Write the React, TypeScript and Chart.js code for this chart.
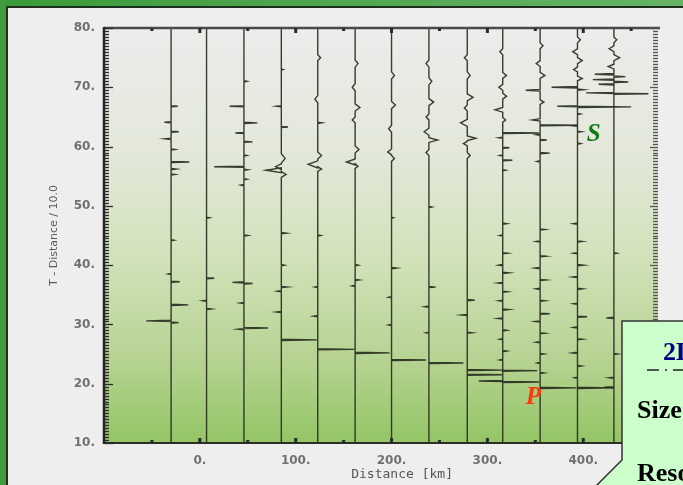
import React, { useEffect, useRef } from "react";
import { Chart, registerables } from "chart.js";

Chart.register(...registerables);

// ---- axes ----
const yTickValues = [10, 20, 30, 40, 50, 60, 70, 80];
const xTickValues = [0, 100, 200, 300, 400];
const xMin = -100;
const xMax = 478;
const yMin = 10;
const yMax = 80;
const yTitle = "T - Distance / 10.0";
const xTitle = "Distance [km]";

// ---- stations (distance in km) ----
const traceDistances = [-30, 7, 46, 85, 123, 162, 200, 239, 279, 316, 355, 394, 432];

// events per trace: [reduced time, amplitude (km), half-width (time)]
const traceM30 = [
  [66.8, 7], [64.1, -7], [62.5, 8], [61.3, -6], [59.5, 4], [57.4, 19], [56.2, 5], [55.3, 4],
  [44.2, 3], [38.5, -3], [37.2, 9], [33.3, 18], [30.6, -26], [30.3, 8],
];
const trace7 = [[48, 3], [37.8, 8], [34, -4], [32.6, 5]];
const trace46 = [
  [71, 3], [66.8, -15], [64, 14], [62.3, -9], [60.8, 9], [58.5, 3], [56.6, -31], [56.1, 4],
  [54.5, 3], [53.5, -3], [45, 4], [37.1, -12], [36.9, 9], [33.6, -4], [29.4, 25], [29.2, -6],
];
const trace85 = [
  [73, 2], [66.8, -5], [63.3, 7], [58, 4, 0.8], [56.6, -6, 0.5], [56, -16, 0.4], [55.3, 5, 0.5],
  [45.4, 5], [40, 3], [36.3, 6], [35.6, -4], [32.1, -5], [27.4, 37, 0.1],
];
const trace123 = [
  [75, 3, 0.5], [68, -3, 0.6], [64, 4], [58.5, 4, 0.6], [57, -10, 0.6], [56.2, 4, 0.4],
  [45, 3], [36.3, -3], [31.4, -4], [25.8, 38, 0.1],
];
const trace162 = [
  [74, 3, 0.6], [70, -3, 0.6], [66.6, 5, 0.6], [64.5, -3, 0.5], [59.5, 4, 0.6], [57.4, -9, 0.5],
  [56.7, 3, 0.4], [40, 3], [37.5, 4], [36.5, -3], [25.2, 36, 0.1],
];
const trace200 = [
  [72, 3, 0.6], [67, 4, 0.6], [63, -3, 0.6], [59.1, -4, 0.5], [58, 3, 0.5], [48, 2],
  [39.5, 5], [34.6, -3], [29.9, -3], [24.0, 36, 0.1],
];
const trace239 = [
  [74, -3, 0.6], [71, 3, 0.6], [67.5, 5, 0.6], [65, -3, 0.5], [62.5, -5, 0.6], [61.1, 9, 0.4],
  [59, -3, 0.5], [49.8, 3], [36.3, 7], [33, -4], [28.6, -3], [23.5, 36, 0.1],
];
const trace279 = [
  [75, -3, 0.5], [72, 3, 0.6], [68.3, 6, 0.6], [66.5, -3, 0.5], [64, -7, 0.6], [61.4, 9, 0.4],
  [60.5, -4, 0.4], [58.5, 3, 0.5], [34.1, 8], [31.6, -6], [28.6, 5], [22.3, 37, 0.1], [21.5, 36, 0.1],
];
const trace316 = [
  [76, -3, 0.5], [72, 4, 0.5], [70, -4, 0.5], [68.5, 4, 0.5], [66.2, -8, 0.4], [64.5, 3, 0.4],
  [62.3, 38, 0.1], [61.5, -4], [59.8, 7], [58.5, -3], [57.7, 10], [56, 3],
  [47, 4], [45, -3], [42, 5], [40, -4], [38.7, 6], [37, -5], [35.5, 5], [34, -4], [32.5, 6],
  [31, -5], [29, 4], [27.5, -3], [25.5, 4], [24, -3], [22.2, 36, 0.1], [20.45, -25, 0.08], [20.3, 38, 0.1],
];
const trace355 = [
  [77, 3, 0.5], [74, -4, 0.5], [72, 5, 0.5], [69.5, -15, 0.15], [67.5, 4, 0.4], [64.5, -8, 0.2],
  [63.6, 39, 0.1], [62, -4], [61.1, 7], [58.9, 10], [57.5, -3],
  [46, 5], [44, -4], [41.5, 6], [39.5, -5], [37.5, 6], [36, -4], [34, 5], [31.8, 10], [30.5, -5],
  [28.5, 5], [27, -4], [25, 4], [23.5, -3], [21.8, 4], [19.3, 38, 0.1],
];
const trace394 = [
  [78, 3, 0.5], [76, -5, 0.5], [74.5, 5, 0.5], [73, -4, 0.4], [71.5, 5, 0.4], [70.0, -27, 0.12],
  [69.6, 6], [66.8, -21, 0.1], [66.7, 56, 0.1], [65.5, 3], [63.5, -5], [62.5, 4], [60.5, 3],
  [47, -4], [44, 5], [42, -4], [40, 6], [38, -5], [36, 5], [33.5, -4], [31.3, 10], [29.5, -4],
  [27.5, 5], [25.2, -5], [23, 4], [21, -3], [19.3, 38, 0.1],
];
const trace432 = [
  [78, 3, 0.5], [76.5, -5, 0.5], [75, 6, 0.5], [73.5, -6, 0.4], [72.2, -20, 0.12], [71.8, 12, 0.12],
  [71.3, -22, 0.12], [70.9, 15, 0.12], [70.5, -16, 0.12], [69.05, -29, 0.1], [68.9, 36, 0.1],
  [42, 3], [31.1, -8], [25, 4], [21, -5], [19.4, -10],
];
const traceEvents = [
  traceM30, trace7, trace46, trace85, trace123, trace162, trace200,
  trace239, trace279, trace316, trace355, trace394, trace432,
];

// phase labels in data space
const phaseLabels = [
  { text: "S", x: 411, t: 62, color: "#137a13" },
  { text: "P", x: 348, t: 17.6, color: "#ff3a0a" },
];

function buildTrace(d: number, events: number[][]) {
  const pts: { x: number; y: number }[] = [{ x: d, y: yMax }];
  const sorted = [...events].sort((a, b) => b[0] - a[0]);
  for (const ev of sorted) {
    const t = ev[0];
    const a = ev[1];
    const w = ev.length > 2 ? ev[2] : 0.1;
    pts.push({ x: d, y: t + w });
    pts.push({ x: d + a, y: t });
    pts.push({ x: d, y: t - w });
  }
  pts.push({ x: d, y: yMin });
  return pts;
}

const bgPlugin = {
  id: "plotBg",
  beforeDatasetsDraw(chart: any) {
    const { ctx, chartArea } = chart;
    const { left, right, top, bottom } = chartArea;
    const g = ctx.createLinearGradient(0, top, 0, bottom);
    g.addColorStop(0, "#ececec");
    g.addColorStop(0.3, "#e3e8da");
    g.addColorStop(0.55, "#d2e2bb");
    g.addColorStop(0.8, "#b5d392");
    g.addColorStop(1, "#94c565");
    ctx.save();
    ctx.fillStyle = g;
    ctx.fillRect(left, top, right - left, bottom - top);
    ctx.restore();
  },
};

const framePlugin = {
  id: "frame",
  afterDatasetsDraw(chart: any) {
    const { ctx, chartArea, scales } = chart;
    const { left, right, top, bottom } = chartArea;
    const x = scales.x;
    const y = scales.y;
    ctx.save();
    ctx.strokeStyle = "#4a4a4a";
    ctx.lineWidth = 2.5;
    ctx.beginPath();
    ctx.moveTo(left, top);
    ctx.lineTo(right + 2, top);
    ctx.stroke();
    ctx.strokeStyle = "#2b2f25";
    ctx.lineWidth = 2;
    ctx.beginPath();
    ctx.moveTo(left, bottom);
    ctx.lineTo(right, bottom);
    ctx.stroke();
    ctx.strokeStyle = "#222";
    ctx.lineWidth = 2.5;
    ctx.beginPath();
    ctx.moveTo(left, top - 1);
    ctx.lineTo(left, bottom + 1);
    ctx.stroke();
    ctx.lineWidth = 1.3;
    for (let v = yMin; v <= yMax + 0.001; v += 0.5) {
      const py = Math.round(y.getPixelForValue(v)) + 0.5;
      const major = yTickValues.includes(v);
      ctx.strokeStyle = "#2a2a2a";
      ctx.beginPath();
      ctx.moveTo(left, py);
      ctx.lineTo(left + (major ? 9 : 5), py);
      ctx.stroke();
      ctx.strokeStyle = "#555";
      ctx.beginPath();
      ctx.moveTo(right, py);
      ctx.lineTo(right - (major ? 8 : 5), py);
      ctx.stroke();
    }
    for (let v = -50; v <= xMax; v += 50) {
      const px = x.getPixelForValue(v);
      const major = xTickValues.includes(v);
      ctx.fillStyle = "#2a2a2a";
      if (major) {
        ctx.fillRect(px - 1.5, top, 3, 5);
        ctx.fillRect(px - 1.5, bottom - 5, 3, 5);
      } else {
        ctx.fillRect(px - 1.5, top, 3, 3);
        ctx.fillRect(px - 1.5, bottom - 3, 3, 3);
      }
    }
    ctx.textAlign = "center";
    ctx.textBaseline = "middle";
    ctx.font = "italic bold 25px 'Liberation Serif', serif";
    for (const p of phaseLabels) {
      ctx.fillStyle = p.color;
      ctx.fillText(p.text, x.getPixelForValue(p.x), y.getPixelForValue(p.t));
    }
    ctx.fillStyle = "#555";
    ctx.font = "13px 'DejaVu Sans Mono', monospace";
    ctx.textBaseline = "middle";
    ctx.fillText(xTitle, x.getPixelForValue(211), bottom + 32);
    ctx.restore();
  },
};

export default function App() {
  const ref = useRef<HTMLCanvasElement>(null);
  useEffect(() => {
    const datasets = traceDistances.map((d, i) => ({
      data: buildTrace(d, traceEvents[i]),
      showLine: true,
      borderColor: "rgba(40,46,32,0.92)",
      borderWidth: 1.4,
      pointRadius: 0,
      tension: 0,
      fill: false,
    }));
    const tickFont = { family: "'DejaVu Sans', sans-serif", size: 12, weight: "bold" as const };
    const chart = new Chart(ref.current!, {
      type: "scatter",
      data: { datasets },
      options: {
        responsive: false,
        animation: false,
        layout: { padding: { left: 0, top: 20, right: 25, bottom: 0 } },
        plugins: { legend: { display: false }, tooltip: { enabled: false } },
        scales: {
          x: {
            type: "linear",
            min: xMin,
            max: xMax,
            grid: { display: false, drawTicks: false },
            border: { display: false },
            afterBuildTicks: (s: any) => {
              s.ticks = xTickValues.map((v) => ({ value: v }));
            },
            afterFit: (s: any) => {
              s.height = 42;
            },
            ticks: {
              padding: 11,
              autoSkip: false,
              maxRotation: 0,
              color: "#707070",
              font: tickFont,
              callback: (v: any) => `${v}.`,
            },
          },
          y: {
            type: "linear",
            min: yMin,
            max: yMax,
            grid: { display: false, drawTicks: false },
            border: { display: false },
            afterBuildTicks: (s: any) => {
              s.ticks = yTickValues.map((v) => ({ value: v }));
            },
            afterFit: (s: any) => {
              s.width = 96;
            },
            ticks: {
              padding: 9,
              color: "#707070",
              font: tickFont,
              callback: (v: any) => `${v}.`,
            },
            title: {
              display: true,
              text: yTitle,
              color: "#5a5a5a",
              font: { family: "'DejaVu Sans', sans-serif", size: 11 },
              padding: { top: 40, bottom: 0 },
            },
          },
        },
      },
      plugins: [bgPlugin, framePlugin],
    });
    return () => chart.destroy();
  }, []);

  return (
    <div
      style={{
        position: "fixed",
        left: 0,
        top: 0,
        width: 683,
        height: 485,
        overflow: "hidden",
        background: "#eeeeee",
      }}
    >
      <div
        style={{
          position: "absolute",
          left: 0,
          top: 0,
          width: 683,
          height: 6,
          background: "linear-gradient(to right, #3a9a3a, #66b366)",
        }}
      />
      <div
        style={{
          position: "absolute",
          left: 0,
          top: 0,
          width: 6,
          height: 485,
          background: "#3d9d3d",
        }}
      />
      <div
        style={{
          position: "absolute",
          left: 6,
          top: 6,
          width: 700,
          height: 500,
          background: "#eeeeee",
          borderLeft: "2px solid #1c2e1c",
          borderTop: "2px solid #1c2e1c",
        }}
      >
        <canvas ref={ref} width={675} height={477} style={{ display: "block" }} />
      </div>
      <svg
        width={683}
        height={485}
        style={{ position: "absolute", left: 0, top: 0 }}
        viewBox="0 0 683 485"
      >
        <polygon
          points="622,321 690,321 690,490 592,490 622,460"
          fill="#ccffcc"
          stroke="#333"
          strokeWidth={1.5}
        />
        <text x={663} y={360} fill="#000080" fontFamily="'Liberation Serif', serif" fontWeight="bold" fontSize={26}>
          2D
        </text>
        <line x1={647} y1={370} x2={690} y2={370} stroke="#222" strokeWidth={1.5} strokeDasharray="12 6 2 6" />
        <text x={637} y={418} fill="#000" fontFamily="'Liberation Serif', serif" fontWeight="bold" fontSize={26}>
          Size
        </text>
        <text x={637} y={481} fill="#000" fontFamily="'Liberation Serif', serif" fontWeight="bold" fontSize={26}>
          Resolution
        </text>
      </svg>
    </div>
  );
}
